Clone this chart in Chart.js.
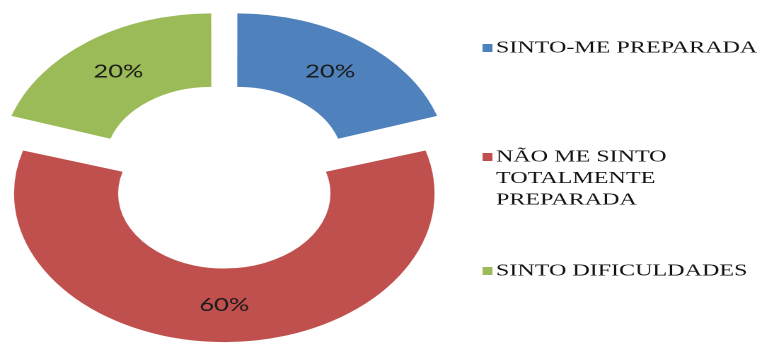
<!DOCTYPE html>
<html>
<head>
<meta charset="utf-8">
<script src="https://cdn.jsdelivr.net/npm/chart.js@4.4.1/dist/chart.umd.min.js"></script>
<style>
    html, body { margin: 0; padding: 0; background: #fff; overflow: hidden; }
    /* the chart is drawn narrow and then widened, as in the original slide */
    #wrap { width: 537px; height: 347px; transform: scaleX(1.415); transform-origin: 0 0; }
</style>
</head>
<body>
<div id="wrap"><canvas id="prepChart" width="537" height="347"></canvas></div>
<script>
const categories = [
    ['SINTO-ME PREPARADA'],
    ['NÃO ME SINTO', 'TOTALMENTE', 'PREPARADA'],
    ['SINTO DIFICULDADES']
];
const values = [20, 60, 20];
const colors = ['#4F81BD', '#C0504D', '#9BBB59'];

/* Chart.js moves an exploded arc by offset/4 and, while drawing, grows it by offset/4 * fix */
const arcExplode = (arc) => {
    const offset = (arc.options.offset || 0) / 4;
    const fix = 1 - Math.sin(Math.min(Math.PI, arc.circumference || 0));
    return { move: offset, grow: offset * fix };
};

/* undo the growth so every slice keeps the same ring size */
const evenRing = {
    id: 'evenRing',
    afterDatasetUpdate(chart, args) {
        args.meta.data.forEach(arc => {
            const { grow } = arcExplode(arc);
            arc.outerRadius -= grow;
            arc.innerRadius -= grow;
        });
    }
};

/* percentages written in the middle of each slice */
const sliceLabels = {
    id: 'sliceLabels',
    afterDatasetsDraw(chart) {
        const ctx = chart.ctx;
        const meta = chart.getDatasetMeta(0);
        const data = chart.data.datasets[0].data;
        const total = data.reduce((a, b) => a + b, 0);
        ctx.save();
        ctx.font = '18px Lato';
        ctx.fillStyle = '#1a1a1a';
        ctx.textAlign = 'center';
        ctx.textBaseline = 'middle';
        meta.data.forEach((arc, i) => {
            const { move, grow } = arcExplode(arc);
            const mid = (arc.startAngle + arc.endAngle) / 2;
            const r = (arc.innerRadius + arc.outerRadius) / 2 + grow + move;
            const txt = Math.round(data[i] / total * 100) + '%';
            ctx.fillText(txt, arc.x + Math.cos(mid) * r, arc.y + Math.sin(mid) * r);
        });
        ctx.restore();
    }
};

/* legend on the right, one coloured square per category */
const sideLegend = {
    id: 'sideLegend',
    afterDraw(chart, args, opts) {
        const ctx = chart.ctx;
        ctx.save();
        ctx.font = '17px "Liberation Serif"';
        ctx.textAlign = 'left';
        ctx.textBaseline = 'middle';
        chart.data.labels.forEach((lines, i) => {
            const y = opts.top[i];
            ctx.fillStyle = chart.data.datasets[0].backgroundColor[i];
            ctx.fillRect(opts.x, y - 4, 7, 8);
            ctx.fillStyle = '#111';
            lines.forEach((line, j) => {
                ctx.fillText(line, opts.x + 9.5, y + j * opts.lineHeight);
            });
        });
        ctx.restore();
    }
};

const ctx = document.getElementById('prepChart').getContext('2d');
const prepChart = new Chart(ctx, {
    type: 'doughnut',
    data: {
        labels: categories,
        datasets: [{
            data: values,
            backgroundColor: colors,
            borderWidth: 0,
            offset: [62, 76, 62],
            clip: false
        }]
    },
    options: {
        responsive: false,
        animation: false,
        devicePixelRatio: 2,
        events: [],
        radius: 148.6,
        cutout: '50.5%',
        layout: { padding: { top: 2, bottom: 0, left: 0, right: 220 } },
        plugins: {
            legend: { display: false },
            tooltip: { enabled: false },
            sideLegend: { x: 341, top: [48, 157, 271], lineHeight: 21.5 }
        }
    },
    plugins: [evenRing, sliceLabels, sideLegend]
});
</script>
</body>
</html>
